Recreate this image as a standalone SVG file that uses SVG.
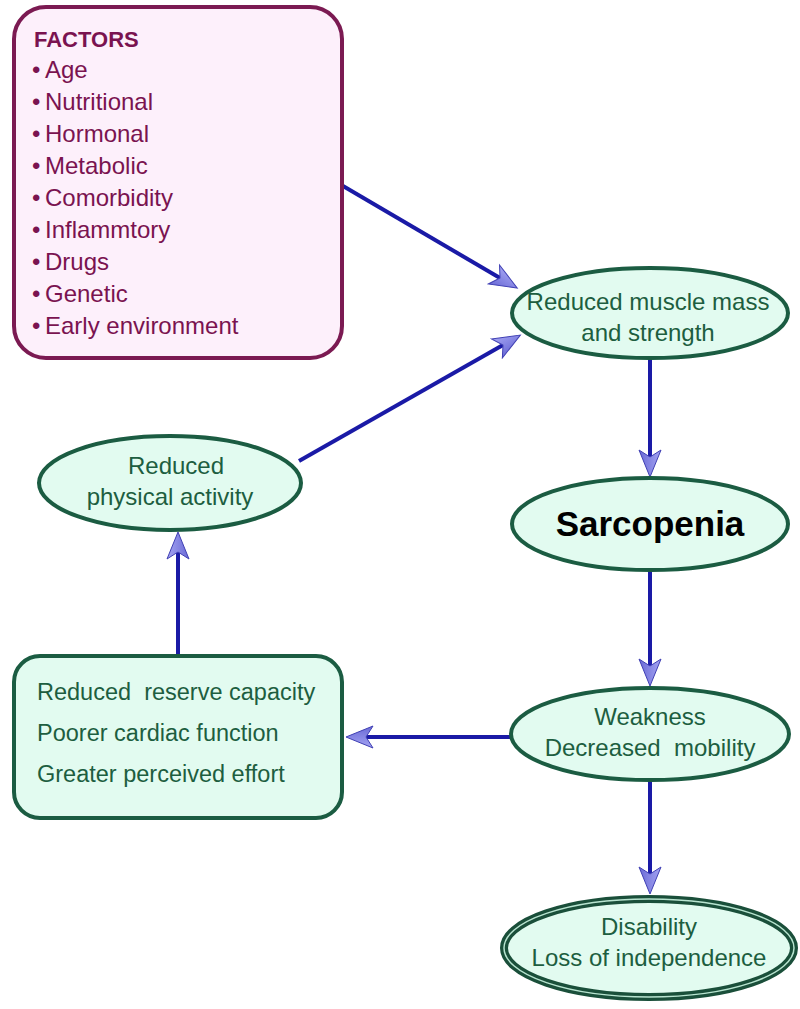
<svg xmlns="http://www.w3.org/2000/svg" width="800" height="1009" viewBox="0 0 800 1009">
<style>
.fac{font-family:"Liberation Sans",Arial,sans-serif;font-size:24px;fill:#7a1350}
.g{font-family:"Liberation Sans",Arial,sans-serif;font-size:24px;fill:#1d5e40}
.ell{fill:#e2fbf0;stroke:#1b5c42;stroke-width:4}
.conn{stroke:#1a1aa6;stroke-width:4;fill:none;marker-end:url(#ah)}
</style>
<defs>
<linearGradient id="ahg" x1="0" y1="0" x2="0" y2="1">
<stop offset="0" stop-color="#a4a4f2"/>
<stop offset="1" stop-color="#6a6ad6"/>
</linearGradient>
<marker id="ah" markerUnits="userSpaceOnUse" markerWidth="30" markerHeight="26" viewBox="0 0 30 26" refX="8" refY="13" orient="auto">
<path d="M1,2 L28,13 L1,24 L8,13 Z" fill="url(#ahg)" stroke="#4040b4" stroke-width="1"/>
</marker>
</defs>
<rect width="800" height="1009" fill="#ffffff"/>
<g id="connectors">
<line class="conn" x1="343" y1="186" x2="500" y2="278"/>
<line class="conn" x1="299" y1="461" x2="503" y2="345"/>
<line class="conn" x1="650" y1="359" x2="650" y2="457"/>
<line class="conn" x1="650" y1="571" x2="650" y2="666"/>
<line class="conn" x1="510" y1="737" x2="366" y2="737"/>
<line class="conn" x1="650" y1="781" x2="650" y2="874"/>
<line class="conn" x1="178" y1="655" x2="178" y2="552"/>
</g>
<g id="factors">
<rect x="14" y="7" width="328" height="351" rx="32" fill="#fdf0fb" stroke="#7b1a52" stroke-width="4"/>
<text x="34" y="47" class="fac" style="font-weight:bold;font-size:22px">FACTORS</text>
<text y="78" class="fac"><tspan x="32">•</tspan><tspan x="45">Age</tspan></text>
<text y="110" class="fac"><tspan x="32">•</tspan><tspan x="45">Nutritional</tspan></text>
<text y="142" class="fac"><tspan x="32">•</tspan><tspan x="45">Hormonal</tspan></text>
<text y="174" class="fac"><tspan x="32">•</tspan><tspan x="45">Metabolic</tspan></text>
<text y="206" class="fac"><tspan x="32">•</tspan><tspan x="45">Comorbidity</tspan></text>
<text y="238" class="fac"><tspan x="32">•</tspan><tspan x="45">Inflammtory</tspan></text>
<text y="270" class="fac"><tspan x="32">•</tspan><tspan x="45">Drugs</tspan></text>
<text y="302" class="fac"><tspan x="32">•</tspan><tspan x="45">Genetic</tspan></text>
<text y="334" class="fac"><tspan x="32">•</tspan><tspan x="45">Early environment</tspan></text>
</g>
<g id="muscle">
<ellipse class="ell" cx="650" cy="313" rx="138" ry="45"/>
<text x="648" y="310" class="g" text-anchor="middle">Reduced muscle mass</text>
<text x="648" y="341" class="g" text-anchor="middle">and strength</text>
</g>
<g id="sarcopenia">
<ellipse class="ell" cx="650" cy="524" rx="138" ry="46"/>
<text x="650" y="536" text-anchor="middle" style="font-family:'Liberation Sans',Arial,sans-serif;font-weight:bold;font-size:35px;fill:#000">Sarcopenia</text>
</g>
<g id="weakness">
<ellipse class="ell" cx="650" cy="734" rx="139" ry="46"/>
<text x="650" y="725" class="g" text-anchor="middle">Weakness</text>
<text x="650" y="756" class="g" text-anchor="middle" xml:space="preserve">Decreased  mobility</text>
</g>
<g id="disability">
<ellipse cx="649" cy="948" rx="145" ry="49" fill="#e2fbf0" stroke="#1a4f3a" stroke-width="8"/>
<ellipse cx="649" cy="948" rx="145" ry="49" fill="none" stroke="#b8e4d0" stroke-width="1.5"/>
<text x="649" y="935" class="g" text-anchor="middle">Disability</text>
<text x="649" y="966" class="g" text-anchor="middle">Loss of independence</text>
</g>
<g id="activity">
<ellipse class="ell" cx="170" cy="483" rx="131" ry="47"/>
<text x="176" y="474" class="g" text-anchor="middle">Reduced</text>
<text x="170" y="505" class="g" text-anchor="middle">physical activity</text>
</g>
<g id="reserve">
<rect x="14" y="656" width="328" height="162" rx="26" fill="#e2fbf0" stroke="#1b5c42" stroke-width="4"/>
<text x="37" y="700" class="g" style="font-size:23.5px" xml:space="preserve">Reduced  reserve capacity</text>
<text x="37" y="741" class="g" style="font-size:23.5px">Poorer cardiac function</text>
<text x="37" y="782" class="g" style="font-size:23.5px">Greater perceived effort</text>
</g>
</svg>
